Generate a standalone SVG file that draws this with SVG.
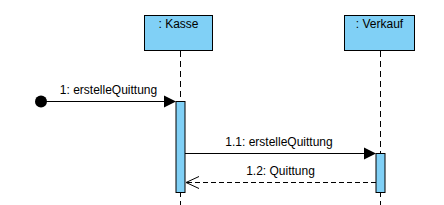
<svg xmlns="http://www.w3.org/2000/svg" width="444" height="205" viewBox="0 0 444 205">
<style>
.box{fill:#80D0F6;stroke:#000;stroke-width:1}
.life{stroke:#000;stroke-width:1;stroke-dasharray:6,4;fill:none}
.act{fill:#80D0F6;stroke:#000;stroke-width:1}
.msg{stroke:#000;stroke-width:1;fill:none}
.ret{stroke:#000;stroke-width:1;fill:none;stroke-dasharray:5,3}
text{font-family:"Liberation Sans",Arial,sans-serif;font-size:12px;fill:#000;text-anchor:middle}
</style>
<rect width="444" height="205" fill="#fff"/>
<g id="kasse">
<rect class="box" x="144.5" y="15.5" width="68" height="35"/>
<text x="178.5" y="27.5">: Kasse</text>
<line class="life" x1="180.5" y1="51" x2="180.5" y2="205"/>
</g>
<g id="verkauf">
<rect class="box" x="344.5" y="15.5" width="70" height="35"/>
<text x="379.5" y="27.5">: Verkauf</text>
<line class="life" x1="380.5" y1="51" x2="380.5" y2="205"/>
</g>
<g id="start">
<circle cx="41" cy="101.5" r="6" fill="#000"/>
</g>
<g id="act-kasse">
<rect class="act" x="176" y="101.5" width="9" height="91"/>
</g>
<g id="act-verkauf">
<rect class="act" x="376" y="153.5" width="9" height="39"/>
</g>
<g id="connectors">
<line class="msg" x1="41" y1="101.5" x2="165" y2="101.5"/>
<polygon points="164,95.5 176,101.5 164,107.5" fill="#000"/>
<text x="108.5" y="93.5">1: erstelleQuittung</text>
<line class="msg" x1="185" y1="153.5" x2="365" y2="153.5"/>
<polygon points="364,147.5 376,153.5 364,159.5" fill="#000"/>
<text x="279" y="145.5">1.1: erstelleQuittung</text>
<line class="ret" x1="376" y1="182.5" x2="186" y2="182.5"/>
<polyline class="msg" points="199,176.5 186,182.5 199,188.5"/>
<text x="280.5" y="174.5">1.2: Quittung</text>
</g>
</svg>
